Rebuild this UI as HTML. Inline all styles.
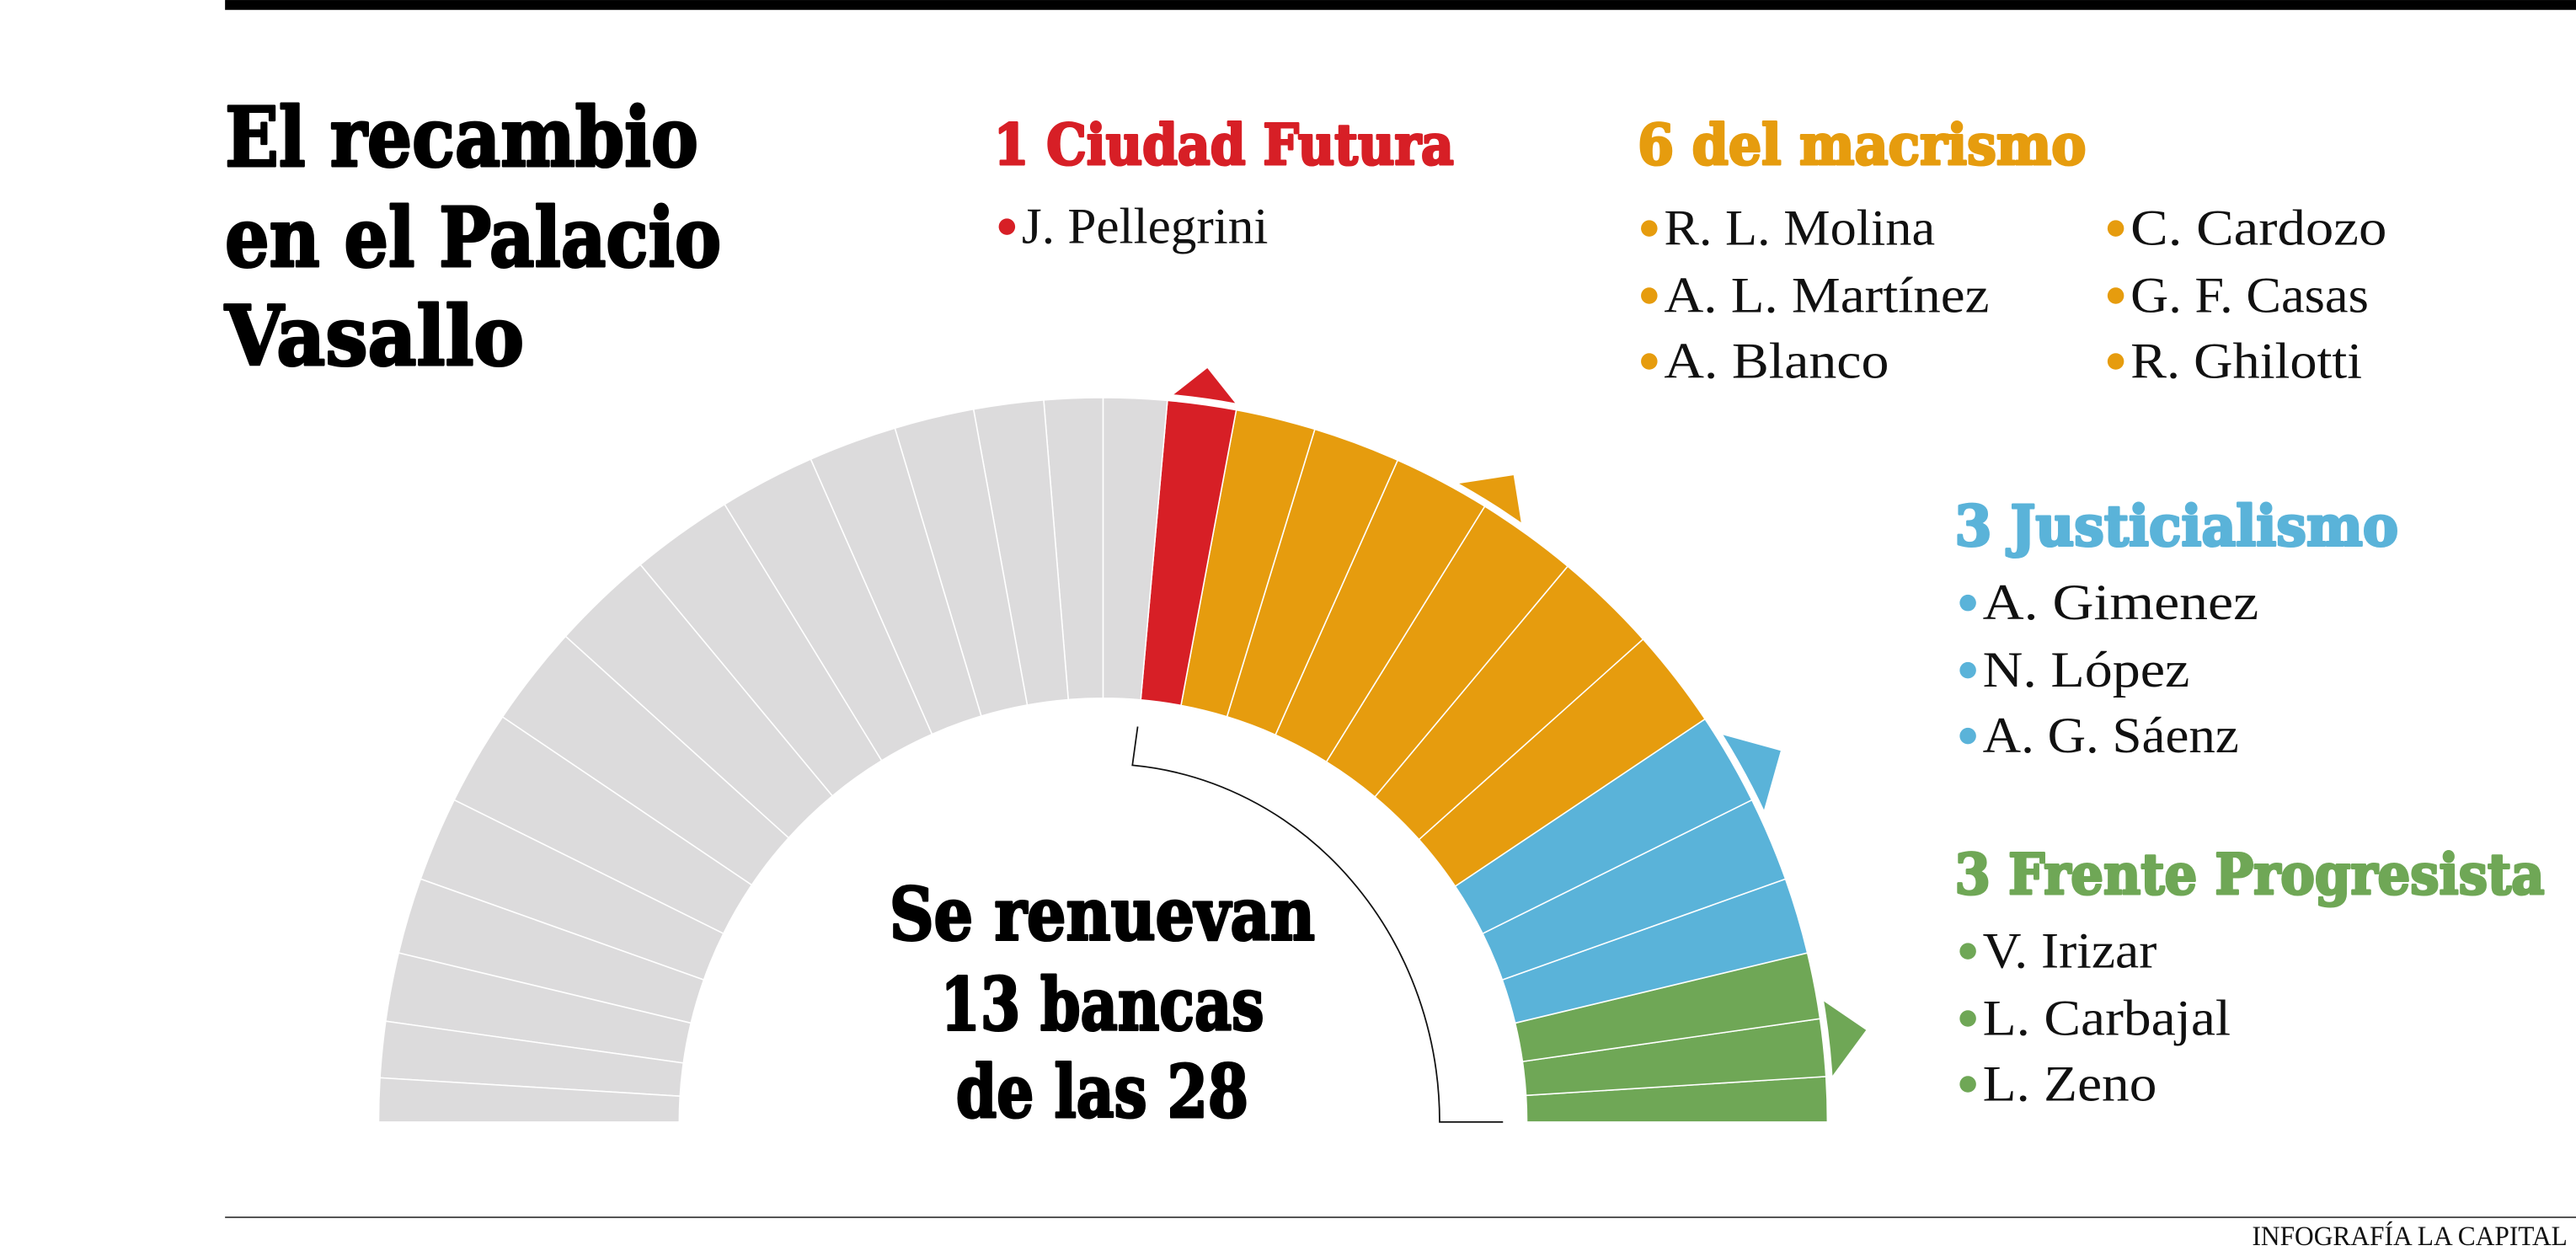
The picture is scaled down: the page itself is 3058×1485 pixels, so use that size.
<!DOCTYPE html>
<html><head><meta charset="utf-8">
<style>
html,body{margin:0;padding:0;background:#fff;}
svg{display:block;}
.h{font-family:"DejaVu Serif","Liberation Serif",serif;font-weight:bold;stroke-width:1.6;stroke-linejoin:round;}
.n{font-family:"Liberation Serif",serif;fill:#111;}
</style></head>
<body>
<svg id="s" width="3058" height="1485" viewBox="0 0 1568.2 761.5" xmlns="http://www.w3.org/2000/svg">
<rect x="0" y="0" width="1568.2" height="761.5" fill="#fff"/>
<rect x="137" y="0" width="1432" height="6" fill="#000"/>
<line x1="137" y1="741" x2="1569" y2="741" stroke="#555" stroke-width="1"/>
<text class="n" x="1563" y="758" font-size="17" text-anchor="end" textLength="192" lengthAdjust="spacingAndGlyphs">INFOGRAFÍA LA CAPITAL</text>

<text class="h" x="137" y="101" font-size="50" stroke="#000" textLength="288" lengthAdjust="spacingAndGlyphs">El recambio</text>
<text class="h" x="137" y="162" font-size="50" stroke="#000" textLength="302" lengthAdjust="spacingAndGlyphs">en el Palacio</text>
<text class="h" x="137" y="222" font-size="50" stroke="#000" textLength="182" lengthAdjust="spacingAndGlyphs">Vasallo</text>

<text class="h" x="605" y="100" font-size="34" fill="#d71f26" stroke="#d71f26" textLength="280" lengthAdjust="spacingAndGlyphs">1 Ciudad Futura</text>
<text class="h" x="997" y="100" font-size="34" fill="#e69c0e" stroke="#e69c0e" textLength="273" lengthAdjust="spacingAndGlyphs">6 del macrismo</text>
<text class="h" x="1190" y="332" font-size="34" fill="#5ab3d9" stroke="#5ab3d9" textLength="270" lengthAdjust="spacingAndGlyphs">3 Justicialismo</text>
<text class="h" x="1190" y="544" font-size="34" fill="#6fa756" stroke="#6fa756" textLength="359" lengthAdjust="spacingAndGlyphs">3 Frente Progresista</text>

<g id="names"></g>
<g id="chart"></g>

<text class="h" x="671" y="572" font-size="44" stroke="#000" text-anchor="middle" textLength="259" lengthAdjust="spacingAndGlyphs">Se renuevan</text>
<text class="h" x="671" y="627" font-size="44" stroke="#000" text-anchor="middle" textLength="197" lengthAdjust="spacingAndGlyphs">13 bancas</text>
<text class="h" x="671" y="680" font-size="44" stroke="#000" text-anchor="middle" textLength="178" lengthAdjust="spacingAndGlyphs">de las 28</text>
</svg>
<script>
(function(){
var NS="http://www.w3.org/2000/svg";
function el(t,a,p){var e=document.createElementNS(NS,t);for(var k in a)e.setAttribute(k,a[k]);p.appendChild(e);return e;}
var names=document.getElementById('names');
var N=[
["#d71f26",622,148,150,"J. Pellegrini"],
["#e69c0e",1013,149,165,"R. L. Molina"],
["#e69c0e",1297,149,156,"C. Cardozo"],
["#e69c0e",1013,190,198,"A. L. Martínez"],
["#e69c0e",1297,190,145,"G. F. Casas"],
["#e69c0e",1013,230,137,"A. Blanco"],
["#e69c0e",1297,230,141,"R. Ghilotti"],
["#5ab3d9",1207,377,168,"A. Gimenez"],
["#5ab3d9",1207,418,126,"N. López"],
["#5ab3d9",1207,458,156,"A. G. Sáenz"],
["#6fa756",1207,589,106,"V. Irizar"],
["#6fa756",1207,630,151,"L. Carbajal"],
["#6fa756",1207,670,106,"L. Zeno"]];
N.forEach(function(d){
 el('circle',{cx:d[1]-9,cy:d[2]-10,r:5,fill:d[0]},names);
 var t=el('text',{x:d[1],y:d[2],'font-size':31,'class':'n',textLength:d[3],lengthAdjust:'spacingAndGlyphs'},names);
 t.textContent=d[4];
});
var g=document.getElementById('chart');
var cx=671.5,cy=683,R=441,r=258;
var B=[0,3.6,8.2,13.5,19.6,26.4,33.8,41.8,50.1,58.2,66,73,79.4,84.9,90,94.7,100.3,106.7,113.8,121.5,129.7,137.9,146,153.6,160.4,166.5,172,176.5,180];
function P(a,rad){var t=a*Math.PI/180;return [cx+rad*Math.cos(t),cy-rad*Math.sin(t)];}
var A=[["#d71f26","712.3,241.9 735,224.1 753.6,247.5"],
["#e69c0e","884.6,294.9 921.4,289.3 926.4,320.5"],
["#5ab3d9","1046.6,446.7 1084,457 1073,496"],
["#6fa756","1109.3,608.8 1136,627 1114.3,656.5"]];
A.forEach(function(a){el('polygon',{points:a[1],fill:a[0]},g);});
for(var i=0;i<28;i++){
 var a1=B[i],a2=B[i+1];
 var c=i<3?"#6fa756":i<6?"#5ab3d9":i<12?"#e69c0e":i<13?"#d71f26":"#dcdbdc";
 var o1=P(a1,R),o2=P(a2,R),i2=P(a2,r),i1=P(a1,r);
 var d="M"+o1+" A"+R+" "+R+" 0 0 0 "+o2+" L"+i2+" A"+r+" "+r+" 0 0 1 "+i1+" Z";
 el('path',{d:d,fill:c,stroke:"#fff","stroke-width":0.8},g);
}
var w1=P(0,443.5),w2=P(90,443.5);
el('path',{d:"M"+w1+" A443.5 443.5 0 0 0 "+w2,fill:"none",stroke:"#fff","stroke-width":3},g);
var s=85*Math.PI/180;
var sx=cx+205*Math.cos(s),sy=cy-218*Math.sin(s);
el('path',{d:"M692.6,442.3 L"+sx+","+sy+" A205 218 0 0 1 876.4,683 L915,683",fill:"none",stroke:"#111","stroke-width":0.9},g);
})();
</script>
</body></html>
